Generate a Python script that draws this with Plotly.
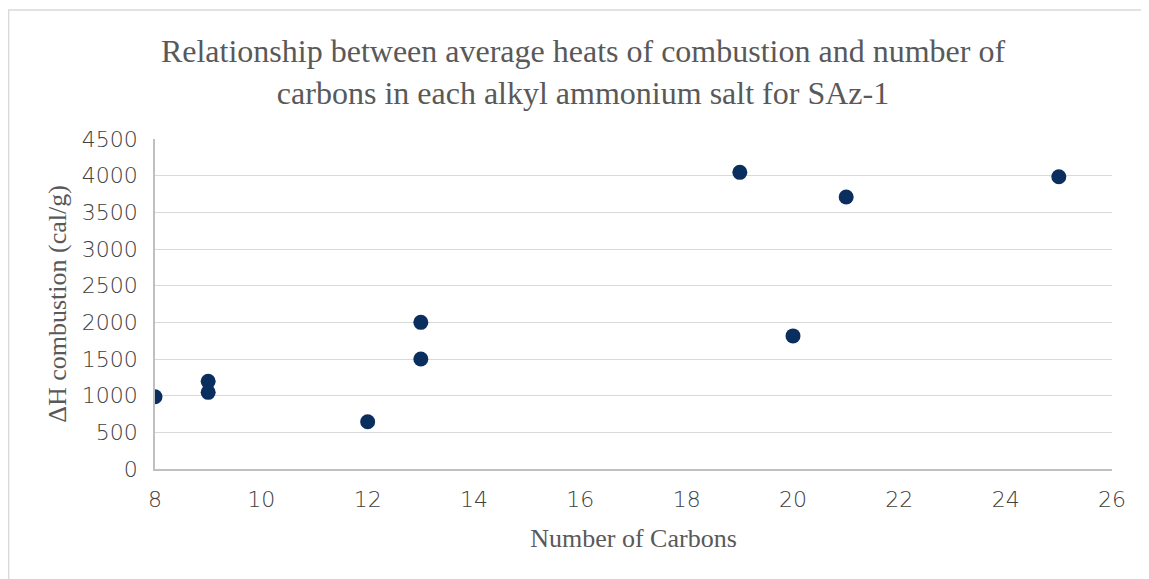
import plotly.graph_objects as go

carbons = [8, 9, 9, 12, 13, 13, 19, 20, 21, 25]
heat = [985, 1195, 1045, 645, 2000, 1500, 4045, 1815, 3710, 3985]

x_ticks = [8, 10, 12, 14, 16, 18, 20, 22, 24, 26]
y_ticks = [0, 500, 1000, 1500, 2000, 2500, 3000, 3500, 4000, 4500]

# page body has an 8px margin, so the figure is drawn at (8, 8)
W, H = 1141, 571
L, R, T, B = 147, 37, 131, 110
pw = W - L - R
ph = H - T - B

fig = go.Figure()
fig.add_trace(go.Scatter(
    x=carbons, y=heat, mode="markers",
    marker=dict(size=15, color="#0A2F5F"),
    showlegend=False, hoverinfo="x+y",
))

tick_font = dict(family="'DejaVu Sans', sans-serif", size=22, color="#404040", weight=300)
serif = "'Liberation Serif', 'Times New Roman', serif"

fig.update_layout(
    width=W, height=H,
    margin=dict(l=L, r=R, t=T, b=B, autoexpand=False),
    paper_bgcolor="white", plot_bgcolor="white",
    title=dict(
        text="Relationship between average heats of combustion and number of<br>carbons in each alkyl ammonium salt for SAz-1",
        font=dict(family=serif, size=32, color="#595959"),
        x=575 / W, xanchor="center", xref="container",
        y=1 - 54 / H, yanchor="middle", yref="container",
    ),
    xaxis=dict(
        range=[8, 26], tickvals=x_ticks, ticktext=[str(v) for v in x_ticks],
        showgrid=False, zeroline=False,
        showline=True, linecolor="#BFBFBF", linewidth=1.5,
        ticks="", tickfont=tick_font, ticklabelstandoff=10,
        title=dict(text="Number of Carbons", font=dict(family=serif, size=26, color="#595959"), standoff=18),
    ),
    yaxis=dict(
        range=[0, 4500], tickvals=y_ticks, ticktext=[str(v) for v in y_ticks],
        showgrid=True, gridcolor="#D9D9D9", gridwidth=1.3,
        zeroline=False, showline=True, linecolor="#BFBFBF", linewidth=1.5,
        ticks="", tickfont=tick_font, ticklabelstandoff=11,
        title=dict(text="ΔH combustion (cal/g)", font=dict(family=serif, size=26, color="#595959"), standoff=8),
    ),
    shapes=[dict(
        type="rect", xref="paper", yref="paper",
        x0=(0.7 - L) / pw, x1=(W + 10 - L) / pw,
        y0=-(H + 10 - T - ph) / ph, y1=(T + ph - 2) / ph,
        line=dict(color="#D9D9D9", width=1.3), fillcolor="rgba(0,0,0,0)", layer="below",
    )],
)

fig.write_html("out.html")
